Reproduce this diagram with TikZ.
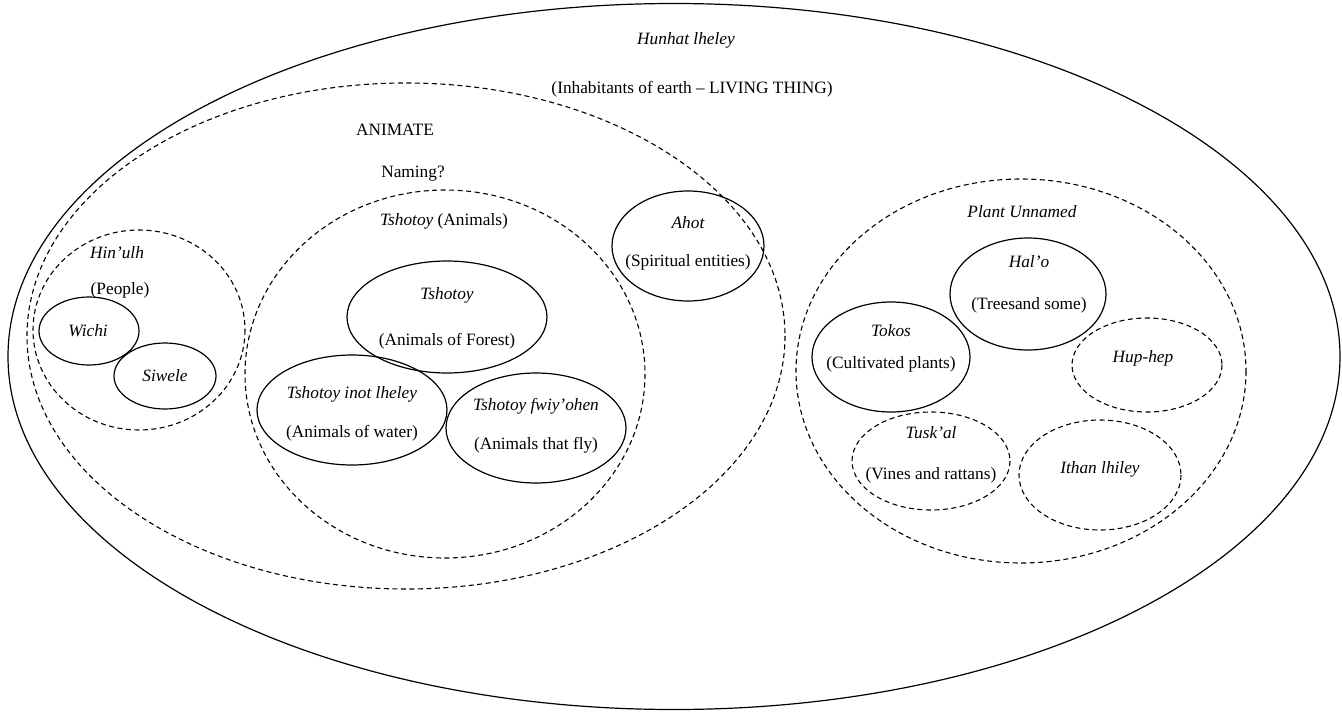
\documentclass[tikz,border=0pt]{standalone}
\usepackage{fontspec}
\setmainfont{Liberation Serif}
\begin{document}
\begin{tikzpicture}[x=1pt,y=-1pt,
  solidset/.style={draw=black,line width=1.2pt},
  dashset/.style={draw=black,line width=1.1pt,dash pattern=on 5pt off 3.5pt},
  lbl/.style={font=\fontsize{17.3}{19}\selectfont,inner sep=0pt,anchor=center},
  ilbl/.style={lbl,font=\fontsize{17.3}{19}\selectfont\itshape}]
\useasboundingbox (0,0) rectangle (1342,712);
% outer
\draw[solidset] (674,356.5) ellipse [x radius=666, y radius=353];
\node[ilbl] (hunhat) at (686,40) {Hunhat lheley};
\node[lbl] (inhab) at (692,89) {(Inhabitants of earth -- LIVING THING)};
% animate
\draw[dashset] (406,336) ellipse [x radius=379, y radius=253];
\node[lbl] (animate) at (395,130) {ANIMATE};
\node[lbl] (naming) at (413,174) {Naming?};
% Hin'ulh
\draw[dashset] (139,330) ellipse [x radius=106, y radius=100];
\node[ilbl] (hinulh) at (117,253) {Hin’ulh};
\node[lbl] (people) at (120,290) {(People)};
\draw[solidset] (89,331) ellipse [x radius=50, y radius=34];
\node[ilbl] (wichi) at (88,331) {Wichi};
\draw[solidset] (165,376) ellipse [x radius=51, y radius=33];
\node[ilbl] (siwele) at (165,376) {Siwele};
% Tshotoy animals
\draw[dashset] (445,374) ellipse [x radius=200, y radius=184];
\node[lbl] (animals) at (444,221) {\textit{Tshotoy} (Animals)};
\draw[solidset] (447,317) ellipse [x radius=100, y radius=56];
\node[ilbl] (forestn) at (447,295) {Tshotoy};
\node[lbl] (forest) at (447,341) {(Animals of Forest)};
\draw[solidset] (352,410) ellipse [x radius=95, y radius=55];
\node[ilbl] (watern) at (352,394) {Tshotoy inot lheley};
\node[lbl] (water) at (352,433) {(Animals of water)};
\draw[solidset] (536,428) ellipse [x radius=90, y radius=55];
\node[ilbl] (flyn) at (536,406) {Tshotoy fwiy’ohen};
\node[lbl] (fly) at (536,445) {(Animals that fly)};
% Ahot
\draw[solidset] (688,246) ellipse [x radius=76, y radius=55];
\node[ilbl] (ahot) at (688,223) {Ahot};
\node[lbl] (spirit) at (688,262) {(Spiritual entities)};
% Plants
\draw[dashset] (1021,371) ellipse [x radius=225, y radius=192];
\node[ilbl] (plant) at (1022,212) {Plant Unnamed};
\draw[solidset] (1028,294) ellipse [x radius=78, y radius=56];
\node[ilbl] (halo) at (1029,262) {Hal’o};
\node[lbl] (trees) at (1029,305) {(Treesand some)};
\draw[solidset] (891,357) ellipse [x radius=79, y radius=55];
\node[ilbl] (tokos) at (891,331) {Tokos};
\node[lbl] (cult) at (891,364) {(Cultivated plants)};
\draw[dashset] (1147,365) ellipse [x radius=75, y radius=47];
\node[ilbl] (huphep) at (1143,358) {Hup-hep};
\draw[dashset] (931,461) ellipse [x radius=79, y radius=49];
\node[ilbl] (tuskal) at (931,433) {Tusk’al};
\node[lbl] (vines) at (931,475) {(Vines and rattans)};
\draw[dashset] (1100,475) ellipse [x radius=81, y radius=55];
\node[ilbl] (ithan) at (1100,469) {Ithan lhiley};
\end{tikzpicture}
\end{document}
